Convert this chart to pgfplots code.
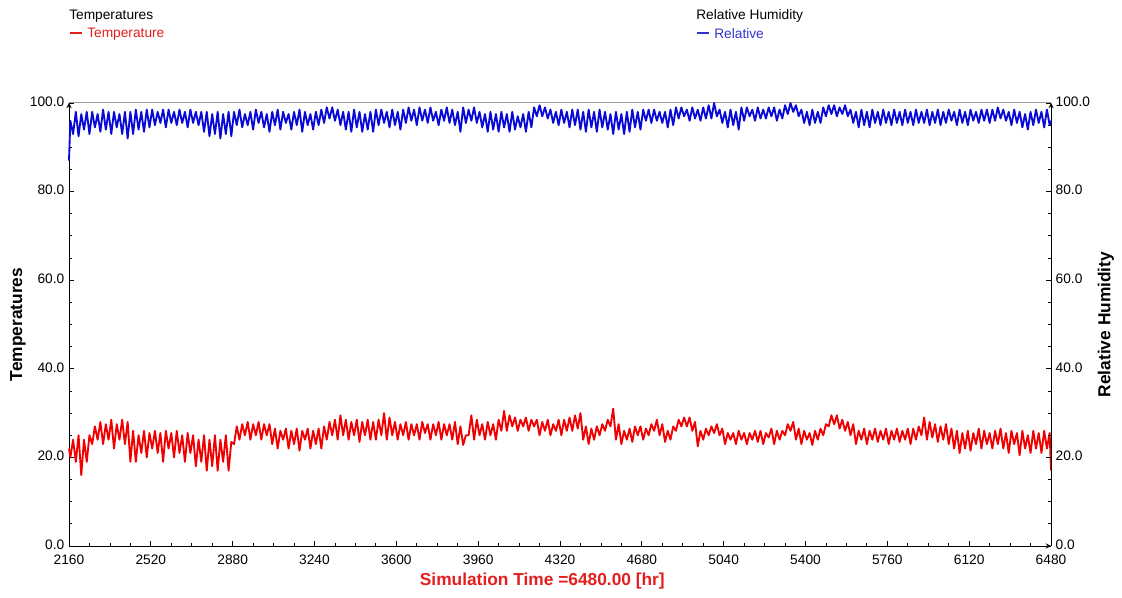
\documentclass[border=0pt]{standalone}
\usepackage{fontspec}
\setmainfont{Liberation Sans}
\usepackage{pgfplots}
\usepackage{pgfplotstable}
\pgfplotsset{compat=1.18}
\definecolor{tred}{RGB}{240,0,0}
\definecolor{tblue}{RGB}{10,10,215}
\definecolor{lred}{RGB}{228,30,30}
\definecolor{lblue}{RGB}{50,50,205}
\pgfplotstableread{
t T RH
2160 22 87
2166 20 96
2178 24 93
2190 19 98
2202 25 92.5
2214 16 97.5
2226 24 94
2238 19 98
2250 25 93
2262 23 98
2274 27 94.5
2286 24 97.5
2298 28 93.5
2310 23 98.5
2322 27.5 94
2334 24 98
2346 28.5 93
2358 22 98
2370 27.5 94.5
2382 24 97.5
2394 28.5 93
2406 23 98
2418 28 92
2430 19 98
2442 26 93
2454 19 98.5
2466 25 94
2478 21 98
2490 26 93.5
2502 20 98.5
2514 25.5 94.5
2526 22 98.5
2538 26 95
2550 21 98
2562 25.5 95.5
2574 19 98.5
2586 26 94.5
2598 22 98.5
2610 25.5 95.5
2622 20 98
2634 26 95
2646 21 98.5
2658 25 95.5
2670 19 98
2682 25.5 94.5
2694 21 98.5
2706 25 95.5
2718 18 98
2730 24 95
2742 19 98
2754 25 93.5
2766 17 98
2778 24 92.5
2790 18 97.5
2802 25 93
2814 17 98
2826 24 92
2838 19 97.5
2850 25 93
2862 17 98
2874 23.5 92.5
2886 23 98
2898 27 95
2910 24 98.5
2922 27.5 94.5
2934 25 97.5
2946 28 95
2958 24 98
2970 27.5 94
2982 25 98.5
2994 28 95.5
3006 24 98
3018 27.5 94.5
3030 25 97.5
3042 27.5 93.5
3054 23 98
3066 26.5 95
3078 22 98.5
3090 26 94
3102 24 98
3114 26.5 95.5
3126 22 97.5
3138 26 94
3150 23 98
3162 26.5 95
3174 21.5 98.5
3186 26 93.5
3198 24 98
3210 26.5 95
3222 22 97.5
3234 26 94
3246 23 98
3258 26.5 95
3270 22 98.5
3282 27 95.5
3294 24 99
3306 28 96.5
3318 25 99
3330 28.5 96
3342 24 98.5
3354 29.5 95
3366 25 98
3378 28.5 94
3390 24 98
3402 28 93.5
3414 25 98.5
3426 28.5 94.5
3438 23.5 98
3450 28 93.5
3462 25 97.5
3474 28.5 94
3486 24 98
3498 28 93.5
3510 24 98.5
3522 28.5 95
3534 25 98.5
3546 30 95.5
3558 24 98
3570 29 94.5
3582 25 98.5
3594 28 95
3606 24 98
3618 27.5 94
3630 25 98.5
3642 28 95.5
3654 24 99
3666 27.5 96
3678 25 98.5
3690 27.5 95
3702 24 99
3714 28 96
3726 25.5 98.5
3738 27.5 95.5
3750 24 99
3762 27.5 96
3774 25 98
3786 28 95
3798 24 98.5
3810 27.5 96
3822 25 99
3834 27.5 95.5
3846 24 98.5
3858 28 95
3870 23 98
3882 27 93.5
3894 22.8 99
3906 25 95.5
3918 25 98.5
3930 29.5 96
3942 24 99
3954 28.5 95.5
3966 25 98
3978 27.5 94.5
3990 24 97.5
4002 28 93.5
4014 25 98
4026 27.5 94
4038 24 97.5
4050 28.5 93.5
4062 26 98
4074 30.5 94.5
4086 26 97.5
4098 29.5 93.5
4110 27 98
4122 29 94
4134 26 97
4146 28.5 94.5
4158 27 97.5
4170 29 93.5
4182 26 98
4194 28.5 94.5
4206 27 99
4218 28.5 97
4230 25 99.5
4242 28 97
4254 26 99
4266 28.5 96.5
4278 25 98.5
4290 27.5 95.5
4302 26 98
4314 28.5 95
4326 25 98.5
4338 28.5 95.5
4350 26 98
4362 29 94.5
4374 26 98.5
4386 29.5 95
4398 26.5 98.5
4410 30 94
4422 24 98
4434 27 93.5
4446 23 98.5
4458 26.5 94.5
4470 24 98
4482 27 93.5
4494 25 98.5
4506 27.5 94.5
4518 26 98
4530 28.5 94
4542 27 97.5
4554 31 93
4566 24 98
4578 27.5 94
4590 23 97.5
4602 26 93
4614 24 98
4626 26.5 93.5
4638 23.5 98.5
4650 27 94.5
4662 25 98
4674 27 94
4686 24 98.5
4698 26.5 96
4710 25 98.5
4722 27.5 95.5
4734 26 98.5
4746 28.5 96
4758 25 98
4770 27.5 95.5
4782 23.5 98
4794 26 94.5
4806 24 98.5
4818 27 95
4830 26 99
4842 28.5 96.5
4854 27 99
4866 29 97
4878 27 98.5
4890 29 96
4902 26 99
4914 28 96.5
4926 22.5 98.5
4938 26 96
4950 24 99
4962 26.5 96.5
4974 25 99.5
4986 27 96.5
4998 25.5 100
5010 27.5 97
5022 25 98.5
5034 26.5 95.5
5046 23 98
5058 25.5 94.5
5070 24 98.5
5082 25.5 95
5094 23 98
5106 26 94
5118 24 99
5130 25.5 96
5142 23 99
5154 25.5 97
5166 24 98.5
5178 26 96
5190 23.5 99
5202 26 96.5
5214 23 98.5
5226 25.5 96.5
5238 24.5 99
5250 26.5 97
5262 23 99
5274 26 96
5286 24 98.5
5298 26 96.5
5310 25 99.5
5322 27.5 97.5
5334 26 100
5346 28 98
5358 24 99.5
5370 26.5 97
5382 23 98.5
5394 26 95.5
5406 24 98
5418 25.5 95
5430 22.8 98.5
5442 26 95.5
5454 24 98
5466 26.5 95.5
5478 25 99
5490 27.5 97
5502 27 99.5
5514 29.5 97.5
5526 27.5 99.5
5538 29.5 97
5550 26.5 99
5562 28.5 97.5
5574 26 99.5
5586 28 97
5598 25 98.5
5610 27.5 95.5
5622 23 98
5634 26 94.5
5646 24 98.5
5658 26.5 95
5670 23 98
5682 26 94.5
5694 24 98.5
5706 26.5 95.5
5718 23.5 98
5730 26 95
5742 24 98.5
5754 26.5 95.5
5766 23 98
5778 26 95
5790 24 98.5
5802 26.5 95.5
5814 23.5 98
5826 26 95
5838 24 98.5
5850 26.5 95.5
5862 23 98
5874 26.5 95
5886 24 98.5
5898 27 95.5
5910 25 98
5922 29 95.5
5934 24 98.5
5946 28 95
5958 24.5 98
5970 27.5 95.5
5982 23.5 98.5
5994 27 95
6006 24 98
6018 27.5 95.5
6030 23 98.5
6042 26.5 96
6054 22 98
6066 26 95
6078 21 98.5
6090 25.5 95.5
6102 22 98
6114 26 95
6126 21.5 98.5
6138 25.5 96
6150 23 98
6162 26.5 95.5
6174 22 98.5
6186 26 96
6198 23 98.5
6210 25.5 95.5
6222 22 98.5
6234 26 96
6246 23 99
6258 26.5 96.5
6270 22 98.5
6282 25.5 96
6294 21 98
6306 26 95
6318 23 98.5
6330 25.5 95.5
6342 20.5 98
6354 26 94.5
6366 22 97.5
6378 25 94
6390 21 98
6402 26 95
6414 22 98.5
6426 25.5 95.5
6438 21 98
6450 26 94.5
6462 22 98.5
6474 25.5 95
6480 17 96
}\datatable
\pgfplotsset{
  common/.style={
    at={(51.75pt,38.25pt)}, anchor=south west,
    scale only axis, width=736.5pt, height=332.25pt,
    xmin=2160, xmax=6480, ymin=0, ymax=100,
    clip=false,
    axis line style={-, black, line width=0.75pt},
    xtick={2160,2520,...,6480}, ytick={0,20,...,100},
    minor x tick num=3, minor y tick num=3,
    major tick length=4pt, minor tick length=2.5pt,
    tick style={black, line width=0.6pt},
    scaled x ticks=false, scaled y ticks=false,
    /pgf/number format/assume math mode=true,
    ticklabel style={font=\fontsize{10.3}{12}\selectfont, text=black},
    yticklabel style={/pgf/number format/fixed, /pgf/number format/precision=1, /pgf/number format/fixed zerofill, yshift=1pt},
    xticklabel style={/pgf/number format/set thousands separator={}, yshift=-3pt},
  }
}
\begin{document}
\begin{tikzpicture}
\useasboundingbox (0,0) rectangle (841.5pt,447.75pt);
% header legends
\node[anchor=west, inner sep=0pt, font=\fontsize{10.3}{12}\selectfont] at (51.75pt,435.9pt) {Temperatures};
\draw[lred, line width=1.4pt] (52.5pt,423pt) -- (61.5pt,423pt);
\node[anchor=west, inner sep=0pt, font=\fontsize{10.3}{12}\selectfont, text=lred] at (65.25pt,422.4pt) {Temperature};
\node[anchor=west, inner sep=0pt, font=\fontsize{10.3}{12}\selectfont] at (522pt,435.9pt) {Relative Humidity};
\draw[lblue, line width=1.4pt] (522.75pt,423pt) -- (531.75pt,423pt);
\node[anchor=west, inner sep=0pt, font=\fontsize{10.3}{12}\selectfont, text=lblue] at (535.5pt,422.4pt) {Relative};
% left axis: temperatures
\begin{axis}[common,
  axis x line=bottom, axis y line=left,
  tick align=inside,
  xlabel={Simulation Time =6480.00 [hr]},
  xlabel style={font=\bfseries\fontsize{13}{15}\selectfont, text=lred, at={(axis description cs:0.482,-0.0790)}, anchor=center},
  ylabel={Temperatures},
  ylabel style={font=\bfseries\fontsize{13}{15}\selectfont, at={(axis description cs:-0.0519,0.5)}, anchor=center, rotate=0},
]
\draw[gray!75, line width=0.75pt] (rel axis cs:0,1) -- (rel axis cs:1,1);
\addplot[tred, line width=1.4pt, line join=round, no markers] table[x=t, y=T] {\datatable};
\end{axis}
% right axis: relative humidity
\begin{axis}[common,
  axis x line=none, axis y line=right,
  tick align=inside,
  ylabel={Relative Humidity},
  ylabel style={font=\bfseries\fontsize{13}{15}\selectfont, at={(axis description cs:1.056,0.5)}, anchor=center, rotate=0},
]
\addplot[tblue, line width=1.4pt, line join=round, no markers] table[x=t, y=RH] {\datatable};
\end{axis}
\end{tikzpicture}
\end{document}
